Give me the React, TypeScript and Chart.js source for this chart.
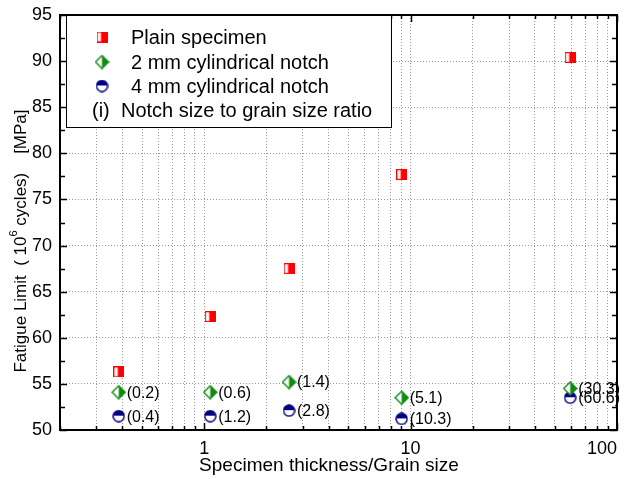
import React, { useEffect, useRef } from 'react';
import { Chart, registerables } from 'chart.js';

Chart.register(...registerables);

// ---- data ----
const xPositions = [0.385, 1.069, 2.575, 9.05, 59.3];
const plainValues = [56.3, 62.3, 67.5, 77.7, 90.4];
const notch2Values = [54.1, 54.1, 55.2, 53.5, 54.5];
const notch4Values = [51.5, 51.5, 52.1, 51.2, 53.5];
const notch2Ratios = ['(0.2)', '(0.6)', '(1.4)', '(5.1)', '(30.3)'];
const notch4Ratios = ['(0.4)', '(1.2)', '(2.8)', '(10.3)', '(60.6)'];
const xMajorTicks = [1, 10, 100];
const xAllTicks = [0.2, 0.3, 0.4, 0.5, 0.6, 0.7, 0.8, 0.9, 1, 2, 3, 4, 5, 6, 7, 8, 9, 10, 20, 30, 40, 50, 60, 70, 80, 90, 100];
const yMin = 50;
const yMax = 95;
const yMajorStep = 5;
const yMinorStep = 2.5;
const legendLabels = ['Plain specimen', '2 mm cylindrical notch', '4 mm cylindrical notch'];
const legendNote = ['(i)', 'Notch size to grain size ratio'];
const xTitle = 'Specimen thickness/Grain size';

const RED = '#ff0000';
const GREEN = '#118a11';
const NAVY = '#000080';
const FONT = '"Liberation Sans", Arial, sans-serif';

function makeSquare(): HTMLCanvasElement {
  const c = document.createElement('canvas');
  c.width = 11; c.height = 11;
  const g = c.getContext('2d')!;
  g.fillStyle = '#fff'; g.fillRect(0, 0, 11, 11);
  g.fillStyle = RED; g.fillRect(4.5, 0, 6.5, 11);
  g.strokeStyle = RED; g.lineWidth = 1.2; g.strokeRect(0.6, 0.6, 9.8, 9.8);
  return c;
}
function makeDiamond(): HTMLCanvasElement {
  const c = document.createElement('canvas');
  const s = 15; c.width = s; c.height = s;
  const g = c.getContext('2d')!;
  const m = s / 2;
  g.beginPath(); g.moveTo(m, 1); g.lineTo(s - 1, m); g.lineTo(m, s - 1); g.lineTo(1, m); g.closePath();
  g.fillStyle = '#fff'; g.fill();
  g.beginPath(); g.moveTo(m, 1); g.lineTo(s - 1, m); g.lineTo(m, s - 1); g.closePath();
  g.fillStyle = GREEN; g.fill();
  g.beginPath(); g.moveTo(m, 1); g.lineTo(s - 1, m); g.lineTo(m, s - 1); g.lineTo(1, m); g.closePath();
  g.strokeStyle = GREEN; g.lineWidth = 1.4; g.stroke();
  return c;
}
function makeCircle(): HTMLCanvasElement {
  const c = document.createElement('canvas');
  const s = 13; c.width = s; c.height = s;
  const g = c.getContext('2d')!;
  const m = s / 2, r = s / 2 - 1;
  g.beginPath(); g.arc(m, m, r, 0, Math.PI * 2); g.fillStyle = '#fff'; g.fill();
  g.beginPath(); g.arc(m, m - 0.5, r, Math.PI, Math.PI * 2); g.closePath(); g.fillStyle = NAVY; g.fill();
  g.beginPath(); g.arc(m, m, r, 0, Math.PI * 2); g.strokeStyle = NAVY; g.lineWidth = 1.4; g.stroke();
  return c;
}

export default function App() {
  const ref = useRef<HTMLCanvasElement>(null);
  useEffect(() => {
    if (!ref.current) return;
    const sq = makeSquare();
    const dm = makeDiamond();
    const ci = makeCircle();
    const markers = [sq, dm, ci];

    const annotate = {
      id: 'annotate',
      afterDatasetsDraw(chart: any) {
        const ctx = chart.ctx;
        ctx.save();
        ctx.font = `16px ${FONT}`;
        ctx.fillStyle = '#000';
        ctx.textAlign = 'left';
        ctx.textBaseline = 'middle';
        const lists = [[1, notch2Ratios], [2, notch4Ratios]] as const;
        for (const [di, labs] of lists) {
          const meta = chart.getDatasetMeta(di);
          meta.data.forEach((pt: any, i: number) => {
            ctx.fillText(labs[i], pt.x + 8, pt.y + 1);
          });
        }
        ctx.restore();
      },
      afterDraw(chart: any) {
        const { ctx, chartArea: a, scales } = chart;
        const xs = scales.x, ys = scales.y;
        ctx.save();
        ctx.strokeStyle = '#000';
        ctx.lineWidth = 1.5;
        ctx.beginPath();
        for (const v of xAllTicks) {
          const px = Math.round(xs.getPixelForValue(v)) + 0.5;
          const len = xMajorTicks.includes(v) ? 7 : 4;
          ctx.moveTo(px, a.bottom); ctx.lineTo(px, a.bottom - len);
          ctx.moveTo(px, a.top); ctx.lineTo(px, a.top + len);
        }
        for (let v = yMin; v <= yMax + 1e-9; v += yMinorStep) {
          const py = Math.round(ys.getPixelForValue(v)) + 0.5;
          const len = Math.abs(v / yMajorStep - Math.round(v / yMajorStep)) < 1e-9 ? 7 : 5;
          ctx.moveTo(a.left, py); ctx.lineTo(a.left + len, py);
          ctx.moveTo(a.right, py); ctx.lineTo(a.right - len, py);
        }
        ctx.stroke();
        ctx.lineWidth = 2;
        ctx.strokeRect(a.left, a.top, a.right - a.left, a.bottom - a.top);

        // legend
        const lx = a.left + 6, ly = a.top, lw = 325, lh = 112;
        ctx.fillStyle = '#fff';
        ctx.fillRect(lx, ly, lw, lh);
        ctx.lineWidth = 1;
        ctx.strokeStyle = '#000';
        ctx.strokeRect(lx + 0.5, ly + 0.5, lw, lh);
        ctx.font = `20px ${FONT}`;
        ctx.fillStyle = '#000';
        ctx.textBaseline = 'middle';
        ctx.textAlign = 'left';
        const rows = [ly + 22, ly + 47, ly + 71, ly + 95];
        legendLabels.forEach((t, i) => {
          const m = markers[i];
          ctx.drawImage(m, lx + 36 - m.width / 2, rows[i] - m.height / 2);
          ctx.fillText(t, lx + 65, rows[i] + 1);
        });
        ctx.fillText(legendNote[0], lx + 26, rows[3] + 1);
        ctx.fillText(legendNote[1], lx + 55, rows[3] + 1);

        // x title
        ctx.font = `19px ${FONT}`;
        ctx.textAlign = 'center';
        ctx.fillText(xTitle, 329, 466);

        // y title (rotated) with superscript
        ctx.translate(21, 241);
        ctx.rotate(-Math.PI / 2);
        const big = `17px ${FONT}`, small = `11px ${FONT}`;
        const parts: [string, string, number][] = [
          ['Fatigue Limit  ( 10', big, 0],
          ['6', small, -7],
          [' cycles)    [MPa]', big, 0],
        ];
        let total = 0;
        for (const [t, f] of parts) { ctx.font = f; total += ctx.measureText(t).width; }
        let cx = -total / 2;
        ctx.textAlign = 'left';
        for (const [t, f, dy] of parts) {
          ctx.font = f;
          ctx.fillText(t, cx, dy);
          cx += ctx.measureText(t).width;
        }
        ctx.restore();
      },
    };

    const chart = new Chart(ref.current, {
      type: 'scatter',
      data: {
        datasets: [
          { label: legendLabels[0], data: xPositions.map((x, i) => ({ x, y: plainValues[i] })), pointStyle: sq as any, pointRadius: 6 },
          { label: legendLabels[1], data: xPositions.map((x, i) => ({ x, y: notch2Values[i] })), pointStyle: dm as any, pointRadius: 7 },
          { label: legendLabels[2], data: xPositions.map((x, i) => ({ x, y: notch4Values[i] })), pointStyle: ci as any, pointRadius: 7 },
        ],
      },
      options: {
        animation: false,
        responsive: false,
        devicePixelRatio: 1,
        layout: { padding: { top: 15, right: 13, left: 0, bottom: 0 } },
        plugins: { legend: { display: false }, tooltip: { enabled: false } },
        scales: {
          x: {
            type: 'logarithmic',
            min: 0.2,
            max: 100,
            afterBuildTicks: (s: any) => { s.ticks = xAllTicks.map((v) => ({ value: v })); },
            afterFit: (s: any) => { s.height = 49; s.paddingLeft = 0; s.paddingRight = 0; },
            ticks: {
              autoSkip: false,
              maxRotation: 0,
              padding: 8,
              align: 'inner',
              color: '#000',
              font: { size: 18, family: FONT },
              callback: (v: any) => (xMajorTicks.includes(Number(v)) ? String(v) : ''),
            },
            grid: { color: '#9a9a9a', lineWidth: 1, drawTicks: false },
            border: { display: false, dash: [1, 2] },
          },
          y: {
            type: 'linear',
            min: yMin,
            max: yMax,
            afterFit: (s: any) => { s.width = 60; s.paddingTop = 0; s.paddingBottom = 0; },
            ticks: {
              stepSize: yMajorStep,
              padding: 8,
              color: '#000',
              font: { size: 18, family: FONT },
            },
            grid: { color: '#9a9a9a', lineWidth: 1, drawTicks: false },
            border: { display: false, dash: [1, 2] },
          },
        },
      },
      plugins: [annotate],
    });
    return () => chart.destroy();
  }, []);
  return (
    <div style={{ position: 'fixed', left: 0, top: 0, width: 630, height: 479, background: '#fff' }}>
      <canvas ref={ref} width={630} height={479} style={{ width: 630, height: 479, display: 'block' }} />
    </div>
  );
}
